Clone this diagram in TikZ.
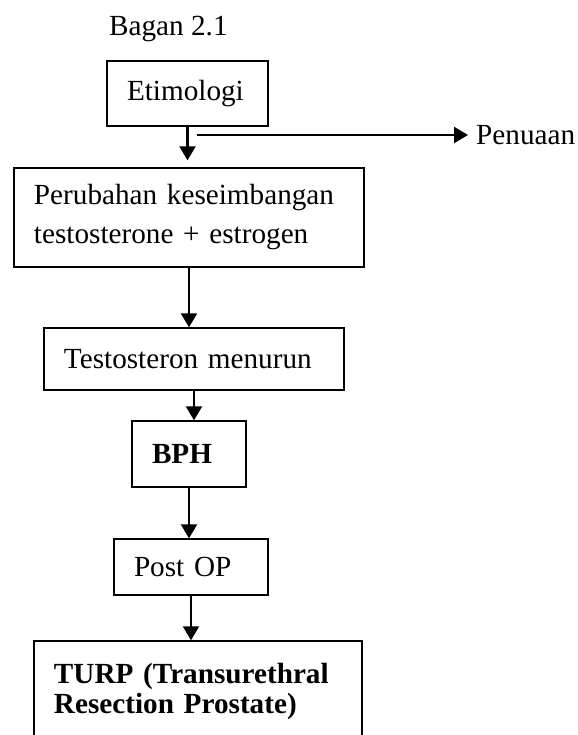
\documentclass[tikz,border=0pt]{standalone}
\usepackage{fontspec}
\setmainfont{Liberation Serif}
\usetikzlibrary{arrows.meta}

\begin{document}
\begin{tikzpicture}[x=1bp, y=-1bp,
        font=\fontsize{29.2bp}{39bp}\selectfont,
        kotak/.style={draw, line width=1.4bp, inner xsep=20bp, inner ysep=0pt, align=left},
        panah/.style={-{Triangle[length=14bp,width=16bp]}, line width=2.2bp}]
        \useasboundingbox (0,0) rectangle (578,735);
        \clip (0,0) rectangle (578,735);

        % Title
        \node[anchor=base west, inner sep=0pt] (judul) at (109,36) {Bagan 2.1};

        % Draw the boxes
        \node[kotak, text width=121bp, minimum height=65bp] (etim) at (187.5,93.5) {Etimologi};
        \node[kotak, text width=310bp, minimum height=99bp] (perub) at (189,217.5) {Perubahan keseimbangan\\testosterone + estrogen};
        \node[kotak, text width=260bp, minimum height=62bp] (testo) at (194,359) {Testosteron menurun};
        \node[kotak, text width=74bp, minimum height=66bp, font=\fontsize{29.2bp}{39bp}\selectfont\bfseries] (bph) at (189,454) {BPH};
        \node[kotak, text width=114bp, minimum height=56bp] (postop) at (191,567) {Post OP};
        \node[kotak, text width=288bp, minimum height=100bp, font=\fontsize{29.2bp}{30bp}\selectfont\bfseries] (turp) at (198,691) {TURP (Transurethral\\Resection Prostate)};

        % Side label
        \node[anchor=west, inner sep=0pt] (penuaan) at (476,135) {Penuaan};
        \coordinate (cabang) at (etim.south |- 0,135);

        % Draw the arrows
        \draw[panah, shorten >=7bp] (etim.south) -- (etim.south |- perub.north);
        \draw[panah, shorten >=8bp] ([xshift=9bp]cabang) -- (penuaan.west);
        \draw[panah] (perub.south) -- (perub.south |- testo.north);
        \draw[panah] (testo.south) -- (testo.south |- bph.north);
        \draw[panah] (bph.south) -- (bph.south |- postop.north);
        \draw[panah] (postop.south) -- (postop.south |- turp.north);
    \end{tikzpicture}
\end{document}
